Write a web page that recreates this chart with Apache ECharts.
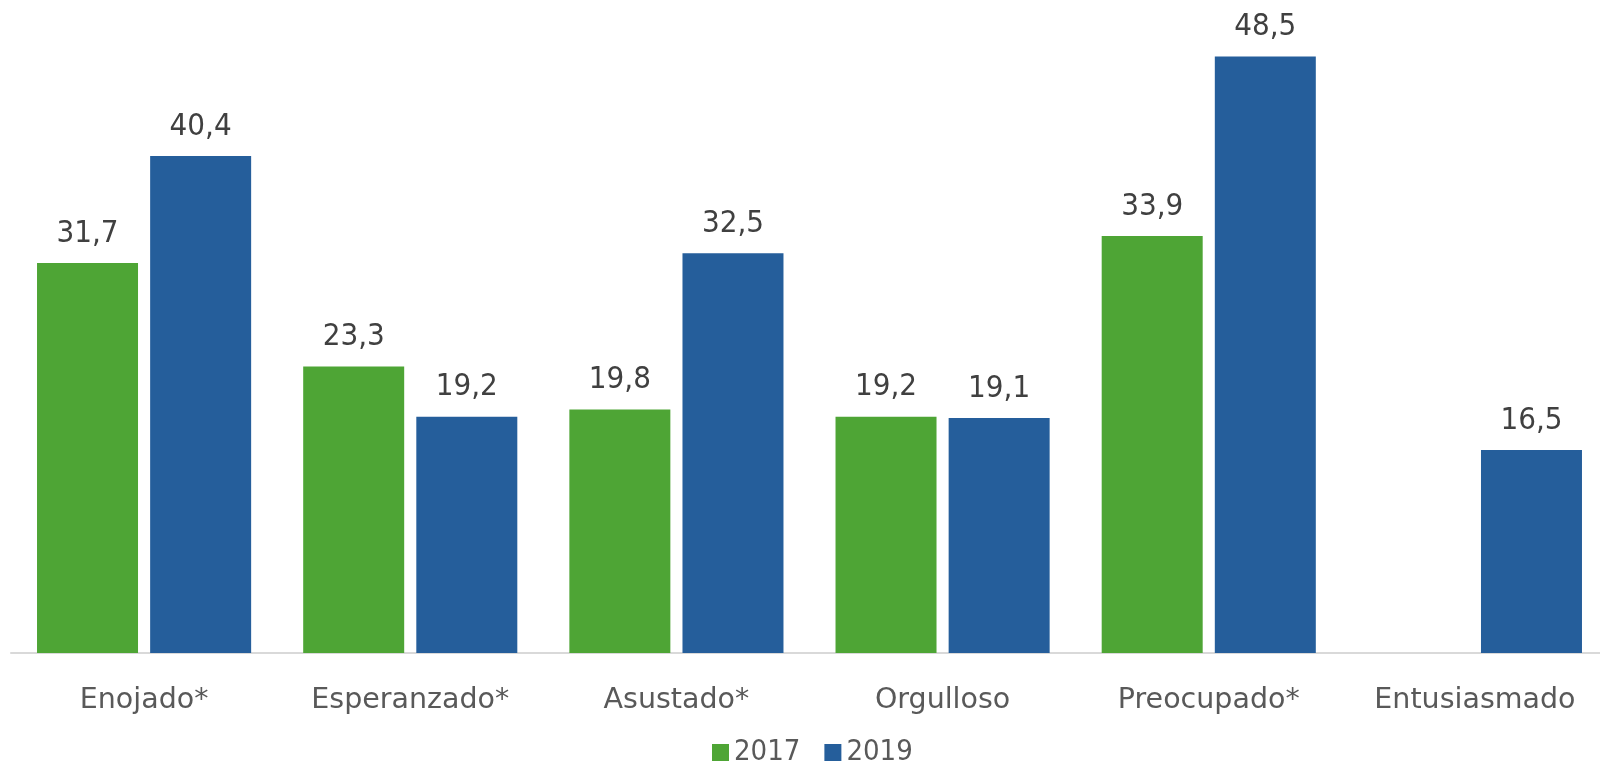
<!DOCTYPE html>
<html>
<head>
<meta charset="utf-8">
<script src="https://cdn.jsdelivr.net/npm/echarts@6/dist/echarts.min.js"></script>
<style>
  html, body { margin: 0; padding: 0; background: #fff; }
  #chart { width: 1600px; height: 766px; }
</style>
</head>
<body>
<div id="chart"></div>
<script>
var categories = ["Enojado*", "Esperanzado*", "Asustado*", "Orgulloso", "Preocupado*", "Entusiasmado"];
var values2017 = [31.7, 23.3, 19.8, 19.2, 33.9, null];
var values2019 = [40.4, 19.2, 32.5, 19.1, 48.5, 16.5];
var seriesNames = ["2017", "2019"];

var condensed = "'DejaVu Sans Condensed', 'DejaVu Sans', sans-serif";
var regular = "'DejaVu Sans', sans-serif";

var chart = echarts.init(document.getElementById("chart"));

function labelFmt(p) {
  return String(p.value).replace(".", ",");
}

var option = {
  animation: false,
  legend: {
    bottom: -6,
    left: 707,
    itemWidth: 17,
    itemHeight: 17,
    itemGap: 24,
    icon: "rect",
    textStyle: { fontFamily: condensed, fontSize: 29, color: "#595959" },
    data: seriesNames
  },
  grid: {
    left: 11,
    width: 1597,
    top: 38,
    bottom: 113,
    outerBoundsMode: "none"
  },
  xAxis: {
    type: "category",
    data: categories,
    axisLine: { lineStyle: { color: "#d9d9d9", width: 2 } },
    axisTick: { show: false },
    axisLabel: {
      interval: 0,
      margin: 33,
      fontFamily: regular,
      fontSize: 28.5,
      color: "#595959"
    }
  },
  yAxis: {
    type: "value",
    min: 0,
    max: 50,
    show: false,
    splitLine: { show: false }
  },
  series: [
    {
      name: seriesNames[0],
      type: "bar",
      data: values2017,
      barWidth: 101,
      barGap: "12%",
      itemStyle: { color: "#4ea535" },
      label: {
        show: true,
        position: "top",
        distance: 14,
        fontFamily: condensed,
        fontSize: 31,
        color: "#404040",
        formatter: labelFmt
      }
    },
    {
      name: seriesNames[1],
      type: "bar",
      data: values2019,
      barWidth: 101,
      itemStyle: { color: "#255e9b" },
      label: {
        show: true,
        position: "top",
        distance: 14,
        fontFamily: condensed,
        fontSize: 31,
        color: "#404040",
        formatter: labelFmt
      }
    }
  ]
};

chart.setOption(option);
</script>
</body>
</html>
